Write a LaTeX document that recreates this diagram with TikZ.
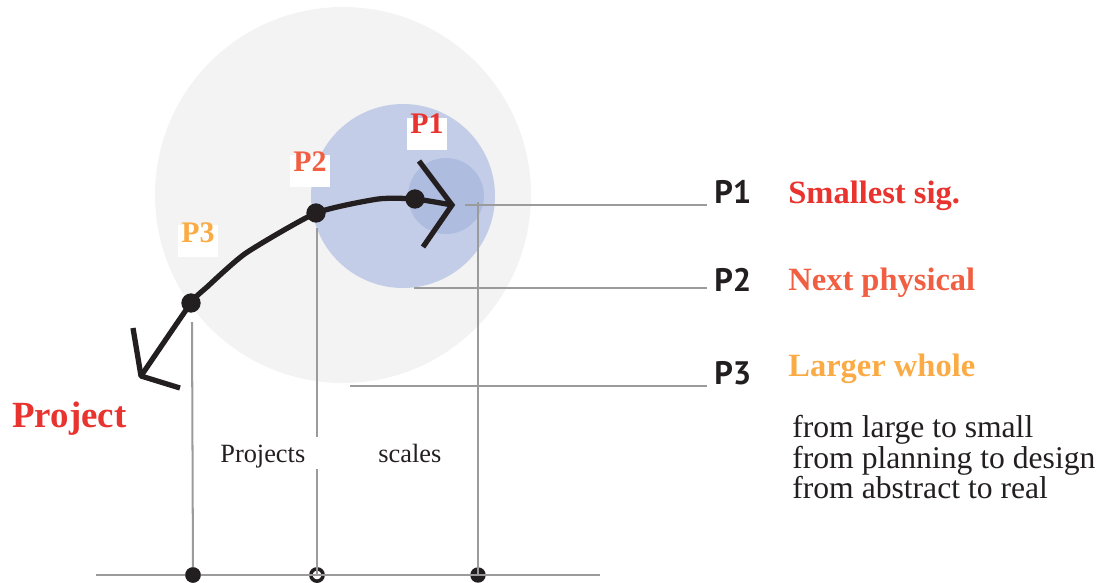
\documentclass[tikz,border=0pt]{standalone}
\usepackage{fontspec}
\setmainfont{Liberation Serif}
\newfontfamily\labfont{PT Sans}
\usetikzlibrary{positioning}
\definecolor{ink}{HTML}{231F20}
\definecolor{rule}{HTML}{9B9B9B}
\definecolor{haze}{HTML}{F3F3F3}
\definecolor{blueA}{HTML}{C3CDE7}
\definecolor{blueB}{HTML}{AEBCE0}
\definecolor{pone}{HTML}{E8332F}
\definecolor{ptwo}{HTML}{F15F43}
\definecolor{pthree}{HTML}{FAAB45}
\begin{document}
\begin{tikzpicture}[x=0.02cm, y=-0.02cm,
  gl/.style={draw=rule, line width=1.15pt},
  trail/.style={draw=ink, line width=3pt, line join=round},
  dot/.style={circle, fill=ink, inner sep=0pt, minimum size=11pt},
  bdot/.style={circle, fill=ink, inner sep=0pt, minimum size=8.8pt},
  wbox/.style={fill=white, inner sep=0pt, minimum width=22.7pt, minimum height=18.1pt},
  tag/.style={font=\fontsize{17}{17}\selectfont\bfseries, inner sep=0pt, anchor=base},
  plab/.style={font=\labfont\fontsize{18.5}{18.5}\selectfont\bfseries, text=ink, inner sep=0pt, anchor=base west},
  desc/.style={font=\fontsize{18.5}{18.5}\selectfont\bfseries, inner sep=0pt, anchor=base west},
  note/.style={font=\fontsize{18}{18}\selectfont, text=ink, inner sep=0pt, anchor=base west}]
\useasboundingbox (0,0) rectangle (1101,582);
% scale circles
\fill[haze] (343,195) circle[radius=188];
\fill[blueA] (403,196) circle[radius=92];
\fill[blueB] (446,196) circle[radius=38];
% guide lines
\node[bdot] (b1) at (193,575) {};
\node[bdot, fill=white, draw=ink, line width=2pt, minimum size=7pt] (b2) at (317,575) {};
\node[bdot] (b3) at (478,575) {};
\node[plab] (r1) at (714,203) {P1};
\node[plab] (r2) at (714,291) {P2};
\node[plab] (r3) at (714,384) {P3};
\coordinate (h1) at (707,205);
\coordinate (h2) at (707,288);
\coordinate (h3) at (707,386);
\draw[gl] (96,575) -- (600,575);
\draw[gl] (192,322) -- (b1.center);
\draw[gl] (317,228) -- (317,437) (317,469) -- (b2.center);
\draw[gl] (478,202) -- (b3.center);
\draw[gl] (465,205) -- (h1);
\draw[gl] (414,288) -- (h2);
\draw[gl] (350,386) -- (h3);
\node[bdot] at (b1) {};
% the project path
\node[dot] (d1) at (415,199) {};
\node[dot] (d2) at (316,213) {};
\node[dot] (d3) at (191,303) {};
\coordinate (tipA) at (452,205);
\coordinate (tipB) at (141,376);
\coordinate (bend) at (378,199);
\draw[trail] plot[smooth, tension=0.35] coordinates {(tipA) (d1.center) (bend) (d2.center) (246,253) (207,287) (d3.center) (tipB)};
\draw[trail, line join=miter] (419,161) -- (tipA) -- (423,247);
\draw[trail] (133,328) -- (tipB) -- (180,388);
% circle tags
\node[wbox] (w1) at (427,134) {};
\node[wbox] (w2) at (310,171) {};
\node[wbox] (w3) at (198,241) {};
\node[tag, text=pone] (t1) at (427,133) {P1};
\node[tag, text=ptwo] (t2) at (310,171) {P2};
\node[tag, text=pthree] (t3) at (198,242) {P3};
% legend
\node[desc, text=pone] (s1) at (788,203) {Smallest sig.};
\node[desc, text=ptwo] (s2) at (788,290) {Next physical};
\node[desc, text=pthree] (s3) at (788,376) {Larger whole};
\foreach \y/\t in {437/from large to small, 468/from planning to design, 498/from abstract to real}
  \node[note] at (792,\y) {\t};
\node[note, font=\fontsize{15}{15}\selectfont] (pj) at (220,462) {Projects};
\node[note, font=\fontsize{15}{15}\selectfont] (sc) at (378,462) {scales};
\node[desc, text=pone, font=\fontsize{21}{21}\selectfont\bfseries] (pr) at (12,427) {Project};
\end{tikzpicture}
\end{document}
